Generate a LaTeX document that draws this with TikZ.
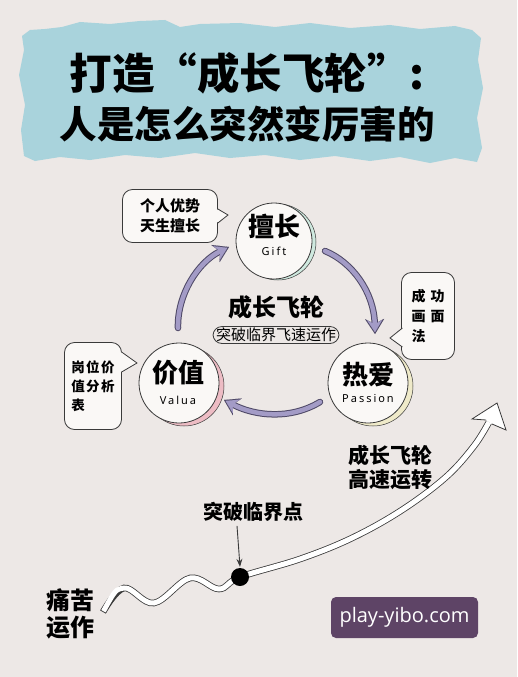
\documentclass[tikz,border=0pt]{standalone}
\usepackage{fontspec}
\setmainfont{Noto Sans CJK SC}
\newfontfamily\lat{Noto Sans}[LetterSpace=18]
\newfontfamily\wmfont{Open Sans}
\usetikzlibrary{arrows.meta,calc}
\definecolor{bg}{HTML}{EDE8E6}
\definecolor{banner}{HTML}{A9D3DC}
\definecolor{linec}{HTML}{3A3A3A}
\definecolor{bubfill}{HTML}{FAF8F6}
\definecolor{purp}{HTML}{A39BC6}
\definecolor{purpline}{HTML}{4E4866}
\definecolor{giftsh}{HTML}{CFE9DF}
\definecolor{valsh}{HTML}{EDBCC4}
\definecolor{passh}{HTML}{EFEAC9}
\definecolor{wmc}{HTML}{5E4466}
\begin{document}
\begin{tikzpicture}[x=1pt,y=-1pt,
  bubble/.style={draw=linec, line width=0.8pt, fill=bubfill, rounded corners=10pt, inner sep=0pt},
  circ/.style={circle, draw=linec, line width=0.8pt, fill=bubfill, inner sep=0pt, minimum size=#1},
  cjkin/.style={font=\fontsize{26}{28}\selectfont\bfseries, inner sep=0pt},
  latin/.style={font=\lat\fontsize{11}{12}\selectfont, inner sep=0pt},
  shadowc/.style={draw=linec, line width=0.5pt},
  arrout/.style={line width=6.5pt, draw=purpline, line cap=round, -{Stealth[length=15pt,width=19pt,inset=5pt,line width=0.01pt]}},
  arrin/.style={line width=4.5pt, draw=purp, line cap=round, shorten >=1.8pt, -{Stealth[length=12pt,width=15pt,inset=4pt,line width=0.01pt]}},
  lbl/.style={font=\fontsize{21}{24}\selectfont\bfseries, align=left, inner sep=0pt, text=black},
  tubeout/.style={line width=6.6pt, draw=linec},
  tubein/.style={line width=5pt, draw=white}
]
\useasboundingbox (0,0) rectangle (517,677);
\fill[bg] (0,0) rectangle (517,677);

% torn banner
\fill[banner] (22,36) -- (30,30) -- (45,29) -- (62,27) -- (80,22) -- (110,24) -- (140,21) -- (165,20) -- (180,27) -- (200,24) -- (240,23) -- (275,27) -- (310,23) -- (350,28) -- (390,25) -- (420,29) -- (455,26) -- (472,30) -- (481,38)
 -- (478,60) -- (483,88) -- (477,118) -- (482,148) -- (477,162)
 -- (455,158) -- (430,163) -- (400,157) -- (370,161) -- (335,156) -- (300,160) -- (265,155) -- (230,158) -- (195,153) -- (160,158) -- (125,155) -- (90,160) -- (60,157) -- (35,161) -- (24,156)
 -- (21,130) -- (25,105) -- (19,75) -- (24,50) -- cycle;

\node[font=\fontsize{42.5}{46}\selectfont\bfseries, inner sep=0pt] (title1) at (247,73) {打造“成长飞轮”:};
\node[font=\fontsize{37.5}{40}\selectfont\bfseries, inner sep=0pt] (title2) at (247,124) {人是怎么突然变厉害的};

% circles with shadows
\fill[giftsh, shadowc] (278,242) circle (38);
\node[circ=76pt] (gift) at (274,241) {};
\node[cjkin] (giftc) at ($(gift)+(0,-15)$) {擅长};
\node[latin] (giftl) at ($(gift)+(0,10)$) {Gift};
\fill[valsh, shadowc] (184,386) circle (40);
\node[circ=80pt] (value) at (179,383) {};
\node[cjkin] (valuec) at ($(value)+(-1,-10)$) {价值};
\node[latin] (valuel) at ($(value)+(-1,17)$) {Valua};
\fill[passh, shadowc] (373,386) circle (40);
\node[circ=80pt] (passion) at (368,383) {};
\node[cjkin] (passionc) at ($(passion)+(0,-8)$) {热爱};
\node[latin] (passionl) at ($(passion)+(0,15)$) {Passion};

% bubbles
\node[bubble, minimum width=95pt, minimum height=53pt, align=center, font=\fontsize{15}{20}\selectfont\bfseries] (b1) at (170,216) {个人优势\\天生擅长};
\fill[bubfill] ($(b1.east)+(-1.5,-7)$) -- (228,215) -- ($(b1.east)+(-1.5,7)$) -- cycle;
\draw[linec, line width=0.8pt] ($(b1.east)+(0,-7)$) -- (228,215) -- ($(b1.east)+(0,7)$);

\node[bubble, minimum width=57pt, minimum height=87pt, align=left, font=\fontsize{13.5}{19}\selectfont\bfseries] (b2) at (93,386) {岗\hspace{1.5pt}位\hspace{1.5pt}价\\值\hspace{1.5pt}分\hspace{1.5pt}析\\表\hspace{29pt}};
\fill[bubfill] (121,352) -- (137,363) -- (121,372) -- cycle;
\draw[linec, line width=0.8pt] (121.6,352) -- (137,363) -- (121.6,372);

\node[bubble, minimum width=53pt, minimum height=87pt, align=left, font=\fontsize{14}{20}\selectfont\bfseries] (b3) at (428,316) {成\hspace{5pt}功\\画\hspace{5pt}面\\法\hspace{19pt}};
\fill[bubfill] (403,328) -- (390,338) -- (403,347) -- cycle;
\draw[linec, line width=0.8pt] (402.4,328) -- (390,338) -- (402.4,347);

% cycle arrows
\coordinate (a1s) at (325,251);
\coordinate (a1e) at (375,334);
\coordinate (a2s) at (320,402);
\coordinate (a2e) at (224,400);
\coordinate (a3s) at (178,328);
\coordinate (a3e) at (229,247);
\draw[arrout] (a1s) .. controls (352,262) and (374,292) .. (a1e);
\draw[arrin] (a1s) .. controls (352,262) and (374,292) .. (a1e);
\draw[arrout] (a2s) .. controls (290,420) and (255,416) .. (a2e);
\draw[arrin] (a2s) .. controls (290,420) and (255,416) .. (a2e);
\draw[arrout] (a3s) .. controls (177,295) and (198,262) .. (a3e);
\draw[arrin] (a3s) .. controls (177,295) and (198,262) .. (a3e);

% center
\node[font=\fontsize{24}{26}\selectfont\bfseries, inner sep=0pt] (fw) at (276,307) {成长飞轮};
\node[draw=linec, line width=0.8pt, rounded corners=9pt, inner xsep=3pt, inner ysep=1.5pt, font=\fontsize{15}{17}\selectfont] (sub) at (276,335) {突破临界飞速运作};

% growth curve
\draw[tubeout] plot[smooth, tension=0.6] coordinates {(103,612) (124,588) (154,603) (190,578) (219,589) (240,577) (300,559) (352,538) (402,510) (446,477) (474,446) (489,422)};
\draw[tubein, shorten <=0.9pt] plot[smooth, tension=0.6] coordinates {(103,612) (124,588) (154,603) (190,578) (219,589) (240,577) (300,559) (352,538) (402,510) (446,477) (474,446) (489,422)};
\fill[white] (497,403) -- (506,430) -- (492,424) -- (486,420) -- (472,419) -- cycle;
\draw[linec, line width=0.8pt, line join=miter] (492,424) -- (506,430) -- (497,403) -- (472,419) -- (486,420);

\node[circle, fill=black, minimum size=18pt, inner sep=0pt] (crit) at (240,577) {};
\node[lbl, font=\fontsize{20}{22}\selectfont\bfseries] (critlab) at (253,512) {突破临界点};
\draw[linec, line width=0.9pt, -{Stealth[length=8pt,width=6pt]}] ($(critlab.south -| crit.north)+(-3,4)$) -- ($(crit.north)+(0,-1)$);

\node[lbl] (fast) at (390,467) {成长飞轮\\高速运转};
\node[lbl, font=\fontsize{24}{27}\selectfont\bfseries] (pain) at (70,614) {痛苦\\运作};

% watermark
\node[fill=wmc, rounded corners=5pt, minimum width=147pt, minimum height=41pt, text=white, font=\wmfont\fontsize{20}{22}\selectfont] (wm) at (404.5,617.5) {play-yibo.com};
\end{tikzpicture}
\end{document}
